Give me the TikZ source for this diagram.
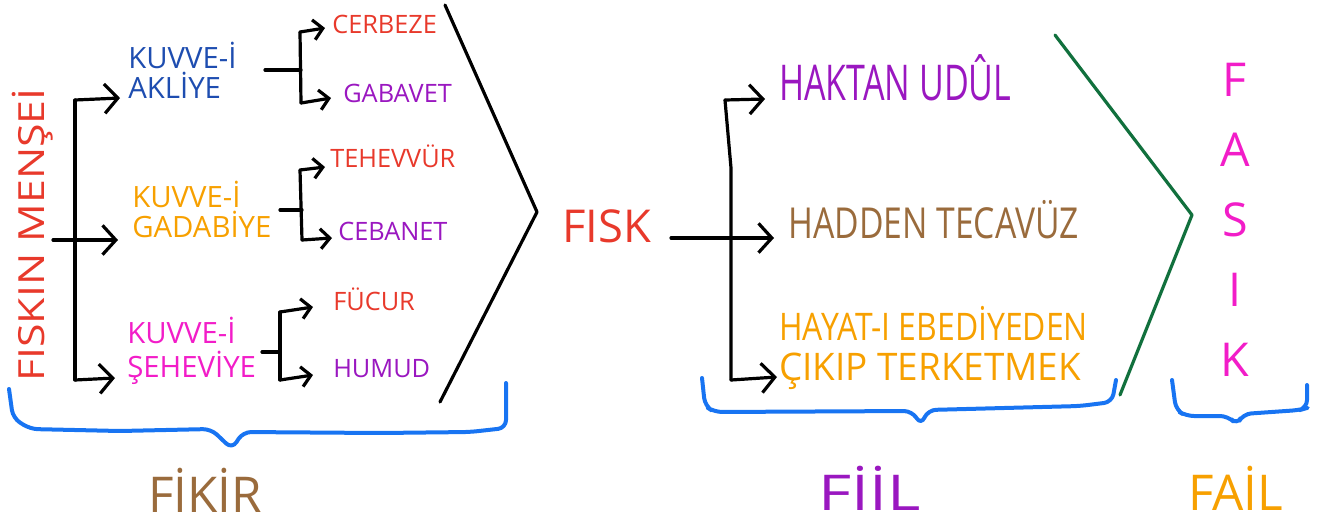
\documentclass[tikz,border=0pt]{standalone}
\usepackage{fontspec}
\usepackage{graphicx}
\setmainfont{Open Sans}
\usetikzlibrary{arrows.meta}
\definecolor{cred}{HTML}{E8392B}
\definecolor{cblue}{HTML}{1E4DB0}
\definecolor{corange}{HTML}{F7A000}
\definecolor{cpink}{HTML}{F21DC8}
\definecolor{cpurple}{HTML}{9A17C0}
\definecolor{cbrown}{HTML}{9A6B3C}
\definecolor{cgreen}{HTML}{11703D}
\definecolor{cbrace}{HTML}{1874F2}
\newcommand{\sqz}[2]{\scalebox{#1}[1]{#2}}
\begin{document}
\begin{tikzpicture}[x=0.75pt,y=-0.75pt,
  txt/.style={inner sep=0pt,anchor=base west},
  ln/.style={line width=2.4pt,line cap=round,line join=round},
  arr/.style={ln,-{Straight Barb[length=7pt,width=15pt]}},
  bigarr/.style={ln,-{Straight Barb[length=10pt,width=22pt]}},
  brace/.style={line width=3pt,cbrace,line cap=round,line join=round,rounded corners=6pt}]
\useasboundingbox (0,0) rectangle (1323,522);

% fikir
\node[inner sep=0pt,rotate=90,text=cred,font=\fontsize{27}{27}\selectfont] (n0) at (33,235) {\sqz{1.19}{FISKIN MENŞEİ}};
\coordinate (m0) at (53,240);
\coordinate (m1) at (75,100);
\coordinate (m3) at (75,380);
\coordinate (a1) at (120,98);
\coordinate (a2) at (118,240);
\coordinate (a3) at (115,378);
\draw[ln] (m1) -- (m3);
\draw[bigarr] (m1) -- (a1);
\draw[bigarr] (m0) -- (a2);
\draw[bigarr] (m3) -- (a3);

\node[txt,align=left,text=cblue,font=\fontsize{22}{22.5}\selectfont] (n1) at (128,98) {KUVVE-İ\\AKLİYE};
\node[txt,align=left,text=corange,font=\fontsize{22}{22.5}\selectfont] (n2) at (132,237) {KUVVE-İ\\GADABİYE};
\node[txt,align=left,text=cpink,font=\fontsize{22}{25.5}\selectfont] (n3) at (127,377) {KUVVE-İ\\ŞEHEVİYE};

\node[txt,text=cred,font=\fontsize{19}{19}\selectfont] (n11) at (332,33) {CERBEZE};
\node[txt,text=cpurple,font=\fontsize{19}{19}\selectfont] (n12) at (343,102) {GABAVET};
\node[txt,text=cred,font=\fontsize{19}{19}\selectfont] (n21) at (330,167) {TEHEVVÜR};
\node[txt,text=cpurple,font=\fontsize{19}{19}\selectfont] (n22) at (338,240) {CEBANET};
\node[txt,text=cred,font=\fontsize{19}{19}\selectfont] (n31) at (333,310) {FÜCUR};
\node[txt,text=cpurple,font=\fontsize{19}{19}\selectfont] (n32) at (333,377) {HUMUD};

\coordinate (j1) at (301,70);
\coordinate (j1t) at (300,32);
\coordinate (j1b) at (301,103);
\coordinate (t11) at (325,28);
\coordinate (t12) at (331,98);
\draw[ln] (265,70) -- (j1);
\draw[ln] (j1t) -- (j1b);
\draw[arr] (j1t) -- (t11);
\draw[arr] (j1b) -- (t12);

\coordinate (j2) at (302,210);
\coordinate (j2t) at (300,170);
\coordinate (j2b) at (302,240);
\coordinate (t21) at (325,167);
\coordinate (t22) at (332,238);
\draw[ln] (280,210) -- (j2);
\draw[ln] (j2t) -- (j2b);
\draw[arr] (j2t) -- (t21);
\draw[arr] (j2b) -- (t22);

\coordinate (j3) at (280,352);
\coordinate (j3t) at (280,312);
\coordinate (j3b) at (280,380);
\coordinate (t31) at (313,307);
\coordinate (t32) at (313,375);
\draw[ln] (262,352) -- (j3);
\draw[ln] (j3t) -- (j3b);
\draw[arr] (j3t) -- (t31);
\draw[arr] (j3b) -- (t32);

\coordinate (k1) at (445,5);
\coordinate (k2) at (537,212);
\coordinate (k3) at (440,402);
\draw[ln] (k1) -- (k2) -- (k3);

% fiil
\node[txt,text=cred,font=\fontsize{34}{34}\selectfont] (fisk) at (562,242) {FISK};
\coordinate (f0) at (671,238);
\coordinate (f1) at (725,100);
\coordinate (f2) at (731,168);
\coordinate (f3) at (731,380);
\coordinate (h1) at (765,99);
\coordinate (h2) at (774,238);
\coordinate (h3) at (777,377);
\draw[ln] (f1) -- (f2) -- (f3);
\draw[bigarr] (f1) -- (h1);
\draw[bigarr] (f0) -- (h2);
\draw[bigarr] (f3) -- (h3);

\node[txt,text=cpurple,font=\fontsize{37}{37}\selectfont] (e1) at (779,100) {\sqz{0.69}{HAKTAN UDÛL}};
\node[txt,text=cbrown,font=\fontsize{32}{32}\selectfont] (e2) at (788,238) {\sqz{0.79}{HADDEN TECAVÜZ}};
\node[txt,align=left,text=corange,font=\fontsize{28.5}{30}\selectfont] (e3) at (779,380) {\sqz{0.84}{HAYAT-I EBEDİYEDEN}\\\sqz{0.97}{ÇIKIP TERKETMEK}};

\coordinate (g1) at (1055,35);
\coordinate (g2) at (1192,215);
\coordinate (g3) at (1120,395);
\draw[ln,cgreen] (g1) -- (g2) -- (g3);

% fail
\node[inner sep=0pt,align=center,text=cpink,font=\fontsize{35}{52.5}\selectfont] (fasik) at (1235,220) {F\\A\\S\\I\\K};

% alt
\draw[brace] (9,389) -- (13,418) -- (30,429) -- (120,431) -- (211,429) -- (232,449) -- (243,432) -- (380,433) -- (470,432) -- (506,428) -- (506,383);
\draw[brace] (702,378) -- (705,406) -- (714,412) -- (912,411) -- (921,425) -- (928,410) -- (1080,406) -- (1112,402) -- (1116,380);
\draw[brace] (1172,380) -- (1176,410) -- (1186,416) -- (1228,416) -- (1237,425) -- (1243,414) -- (1300,410) -- (1307,408) -- (1307,385);

\node[txt,text=cbrown,font=\fontsize{37}{37}\selectfont] (l1) at (148,512) {FİKİR};
\node[txt,text=cpurple,font=\fontsize{37}{37}\selectfont] (l2) at (818,510) {\sqz{1.3}{FİİL}};
\node[txt,text=corange,font=\fontsize{37}{37}\selectfont] (l3) at (1188,510) {FAİL};
\end{tikzpicture}
\end{document}
